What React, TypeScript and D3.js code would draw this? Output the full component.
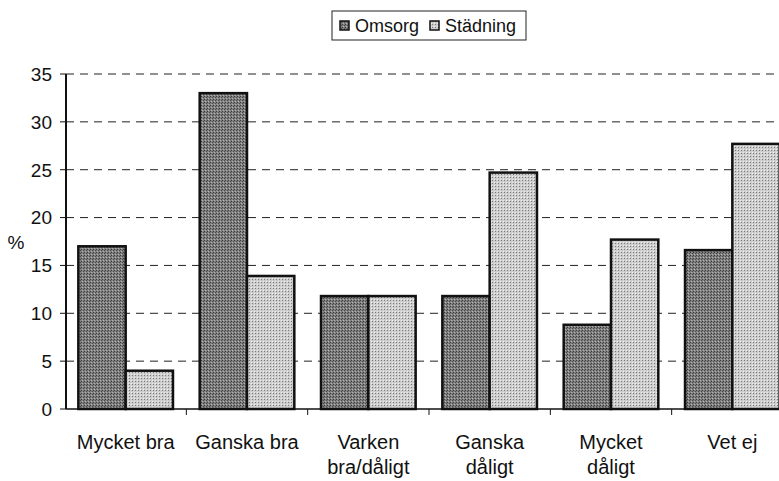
import React from 'react'
import * as d3 from 'd3'

const categories = [
  ['Mycket bra'],
  ['Ganska bra'],
  ['Varken', 'bra/dåligt'],
  ['Ganska', 'dåligt'],
  ['Mycket', 'dåligt'],
  ['Vet ej'],
]
const seriesNames = ['Omsorg', 'Städning']
const omsorg = [17, 33, 11.8, 11.8, 8.8, 16.6]
const stadning = [4, 13.9, 11.8, 24.7, 17.7, 27.7]
const yTicks = [0, 5, 10, 15, 20, 25, 30, 35]

const W = 779
const H = 481
const font = '"Liberation Sans", Arial, sans-serif'

export default function App() {
  const keys = categories.map((c) => c.join(' '))
  const x = d3.scaleBand().domain(keys).range([65, 793]).paddingInner(0.22).paddingOuter(0.11)
  const xs = d3.scaleBand().domain(seriesNames).range([0, x.bandwidth()])
  const y = d3.scaleLinear().domain([0, 35]).range([409, 74])
  const values = [omsorg, stadning]
  const fills = ['url(#patO)', 'url(#patS)']
  const step = x.step()

  return (
    <svg width={W} height={H} style={{ position: 'absolute', left: 0, top: 0, background: '#fff' }}>
      <defs>
        <pattern id="patO" width="3" height="3" patternUnits="userSpaceOnUse">
          <rect width="3" height="3" fill="#808080" />
          <rect x="0" y="0" width="1" height="1" fill="#3a3a3a" />
          <rect x="2" y="1" width="1" height="1" fill="#4a4a4a" />
          <rect x="1" y="2" width="1" height="1" fill="#b4b4b4" />
        </pattern>
        <pattern id="patS" width="3" height="3" patternUnits="userSpaceOnUse">
          <rect width="3" height="3" fill="#cdcdcd" />
          <rect x="0" y="0" width="1" height="1" fill="#7a7a7a" />
          <rect x="2" y="2" width="1" height="1" fill="#f0f0f0" />
        </pattern>
      </defs>

      {/* gridlines */}
      {yTicks.filter((t) => t > 0).map((t) => (
        <line key={t} x1={66} x2={W} y1={y(t)} y2={y(t)} stroke="#222" strokeWidth={1} strokeDasharray="8,6" />
      ))}

      {/* bars */}
      {values.map((vals, si) =>
        vals.map((v, i) => (
          <rect
            key={si + '-' + i}
            x={(x(keys[i]) as number) + (xs(seriesNames[si]) as number)}
            y={y(v)}
            width={xs.bandwidth()}
            height={y(0) - y(v)}
            fill={fills[si]}
            stroke="#111"
            strokeWidth={2.5}
          />
        ))
      )}

      {/* axes */}
      <line x1={66} x2={66} y1={y(35)} y2={y(0)} stroke="#111" strokeWidth={2} />
      <line x1={66} x2={W} y1={y(0)} y2={y(0)} stroke="#111" strokeWidth={1.5} />
      {yTicks.map((t) => (
        <g key={t}>
          <line x1={60} x2={66} y1={y(t)} y2={y(t)} stroke="#111" strokeWidth={1} />
          <text x={52} y={y(t)} dy="0.36em" textAnchor="end" fontFamily={font} fontSize={19} fill="#111">
            {t}
          </text>
        </g>
      ))}
      {keys.slice(1).map((k) => (
        <line key={k} x1={(x(k) as number) - (step - x.bandwidth()) / 2} x2={(x(k) as number) - (step - x.bandwidth()) / 2}
          y1={y(0)} y2={y(0) + 6} stroke="#111" strokeWidth={1} />
      ))}
      <text x={16} y={242} dy="0.35em" textAnchor="middle" fontFamily={font} fontSize={19} fill="#111">%</text>

      {/* category labels */}
      {categories.map((lines, i) => (
        <text key={i} textAnchor="middle" fontFamily={font} fontSize={20} fill="#111">
          {lines.map((l, j) => (
            <tspan key={j} x={(x(keys[i]) as number) + x.bandwidth() / 2} y={449 + j * 25}>{l}</tspan>
          ))}
        </text>
      ))}

      {/* legend */}
      <rect x={332} y={11} width={194} height={29} fill="#fff" stroke="#222" strokeWidth={1} />
      {seriesNames.map((n, i) => {
        const lx = [340, 430][i]
        return (
          <g key={n}>
            <rect x={lx} y={21} width={9} height={9} fill={fills[i]} stroke="#111" strokeWidth={1.5} />
            <text x={lx + 15} y={32} fontFamily={font} fontSize={18} fill="#111">{n}</text>
          </g>
        )
      })}
    </svg>
  )
}
